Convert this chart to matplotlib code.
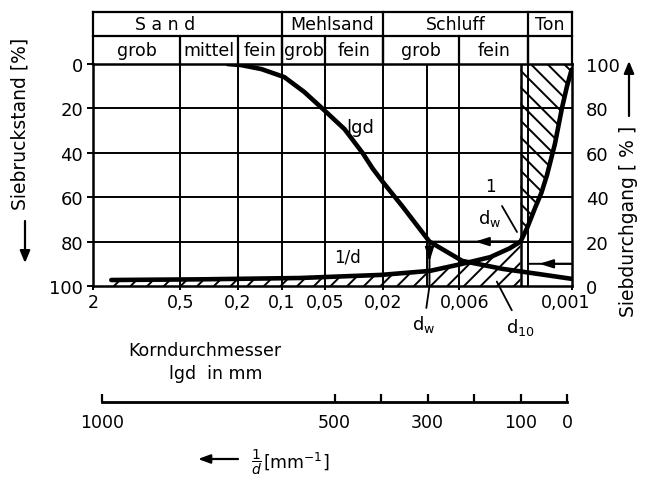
import numpy as np
import matplotlib
matplotlib.use("Agg")
import matplotlib.pyplot as plt
from matplotlib.ticker import NullLocator
from matplotlib.transforms import ScaledTranslation

plt.rcParams["font.family"] = ["DejaVu Sans"]
plt.rcParams["hatch.linewidth"] = 1.4

# grading curve over lg d: grain diameter [mm] and sieve residue [%]
d_lgd = [0.236, 0.19, 0.138, 0.096, 0.07, 0.052, 0.037, 0.0278, 0.0237,
         0.0202, 0.0148, 0.0096, 0.0057, 0.003, 0.0017, 0.001]
residue_lgd = [0, 0.5, 2.3, 5.9, 12.6, 20.3, 29.3, 40, 47,
               53, 64, 80, 88.7, 92.3, 94.6, 96.8]

# same sample over 1/d [1/mm] and sieve passing [%]
inv_d = [980, 790, 575, 400, 295, 225, 165, 123, 100, 86, 69, 55, 43, 26, 11, 0, -10]
passing_inv = [2.7, 3.0, 3.6, 5.0, 6.8, 10.0, 13.0, 17.0, 20.0, 26.0, 35.0,
               42.0, 50.0, 64.0, 80.0, 90.0, 97.5]

# soil classes and their boundaries [mm]
main_classes = ["S a n d", "Mehlsand", "Schluff", "Ton"]
main_bounds = [2, 0.1, 0.02, 0.002, 0.001]
sub_classes = ["grob", "mittel", "fein", "grob", "fein", "grob", "fein", ""]
sub_bounds = [2, 0.5, 0.2, 0.1, 0.05, 0.02, 0.006, 0.002, 0.001]

grid_d = [0.5, 0.2, 0.1, 0.05, 0.02, 0.01, 0.006, 0.002]
d_ticks = [2, 0.5, 0.2, 0.1, 0.05, 0.02, 0.006, 0.001]
d_ticklabels = ["2", "0,5", "0,2", "0,1", "0,05", "0,02", "0,006", "0,001"]
pct_ticks = [0, 20, 40, 60, 80, 100]

inv_ticks = [1000, 500, 400, 300, 200, 100, 0]
inv_ticklabels = ["1000", "500", "", "300", "", "100", "0"]

d_w = 0.0096        # lgd curve at the 1/d_w passing level
inv_d_w = 100       # 1/d_w [1/mm]
d_10 = 0.0033
p_10 = 10           # passing for d_10

W, H = 653, 485
fig = plt.figure(figsize=(W / 100, H / 100), dpi=100)


def px_box(l, t, r, b):
    return [l / W, 1 - b / H, (r - l) / W, (b - t) / H]


def fpx(x, y):
    # pixel position (from top left) -> figure fraction
    return x / W, 1 - y / H


AX_L, AX_T, AX_R, AX_B = 93, 65, 572, 287
INV_L, INV_R = 102, 567      # where 1/d = 1000 and 1/d = 0 sit

ax = fig.add_axes(px_box(AX_L, AX_T, AX_R, AX_B))
ax.set_xscale("log")
ax.set_xlim(2, 0.001)
ax.set_ylim(100, 0)
ax.xaxis.set_minor_locator(NullLocator())
ax.set_xticks(d_ticks)
ax.set_xticklabels(d_ticklabels)
ax.set_yticks(pct_ticks)
ax.tick_params(axis="x", direction="out", length=3, width=1.4, pad=2, labelsize=12.5)
ax.tick_params(axis="y", direction="out", length=4, width=1.4, pad=3, labelsize=13)
for s in ax.spines.values():
    s.set_linewidth(1.8)

# nudge the crowded labels at the fine end
xlabels = ax.get_xticklabels()
xlabels[-2].set_transform(xlabels[-2].get_transform()
                          + ScaledTranslation(6 / 100, 0, fig.dpi_scale_trans))
xlabels[-1].set_transform(xlabels[-1].get_transform()
                          + ScaledTranslation(-6 / 100, 0, fig.dpi_scale_trans))

# grid
for g in grid_d:
    ax.axvline(g, color="black", lw=1.4, zorder=1)
for p in pct_ticks[1:-1]:
    ax.axhline(p, color="black", lw=1.4, zorder=1)

# header table with soil classes
xt = ax.get_xaxis_transform()
Y0, Y1, Y2 = 1.0, (AX_B - 37) / (AX_B - AX_T), (AX_B - 13) / (AX_B - AX_T)
ax.plot([2, 0.001], [Y1, Y1], color="black", lw=1.6, transform=xt, clip_on=False)
ax.plot([2, 0.001], [Y2, Y2], color="black", lw=1.6, transform=xt, clip_on=False)
for b in main_bounds:
    ax.plot([b, b], [Y0, Y2], color="black", lw=1.6, transform=xt, clip_on=False)
for b in sub_bounds[1:-1]:
    ax.plot([b, b], [Y0, Y1], color="black", lw=1.6, transform=xt, clip_on=False)


def log_mid(a, b):
    return 10 ** ((np.log10(a) + np.log10(b)) / 2)


for i, name in enumerate(main_classes):
    if i == 0:
        xm = log_mid(main_bounds[0], 0.2)   # "Sand" sits over grob/mittel
    else:
        xm = log_mid(main_bounds[i], main_bounds[i + 1])
    ax.text(xm, (Y1 + Y2) / 2, name, transform=xt, ha="center", va="center",
            fontsize=12.5)
for i, name in enumerate(sub_classes):
    xm = log_mid(sub_bounds[i], sub_bounds[i + 1])
    ax.text(xm, (Y0 + Y1) / 2, name, transform=xt, ha="center", va="center",
            fontsize=12.5)

# lg d curve
ax.plot(d_lgd, residue_lgd, color="black", lw=3.3, solid_joinstyle="round",
        solid_capstyle="round", zorder=4)

# overlay axes for 1/d and passing
k = 1000 / (INV_R - INV_L)
ax2 = fig.add_axes(px_box(AX_L, AX_T, AX_R, AX_B), frameon=False)
ax2.set_xlim(1000 + (INV_L - AX_L) * k, -(AX_R - INV_R) * k)
ax2.set_ylim(0, 100)
ax2.set_xticks([])
ax2.yaxis.tick_right()
ax2.set_yticks(pct_ticks)
ax2.tick_params(axis="y", length=0, pad=10, labelsize=13)

inv = np.array(inv_d, dtype=float)
pas = np.array(passing_inv, dtype=float)
p_w = np.interp(inv_d_w, inv[::-1], pas[::-1])

# area under the 1/d curve, left of 1/d_w
left = inv >= inv_d_w
ax2.fill(np.r_[inv[0], inv[left], inv_d_w], np.r_[0, pas[left], 0],
         facecolor="none", edgecolor="black", hatch="//", lw=0, zorder=2)
# area between 1/d_w and the curve above the crossing
right = inv < inv_d_w
x_end = ax2.get_xlim()[1]
ax2.fill(np.r_[inv_d_w, inv[right], x_end, inv_d_w],
         np.r_[p_w, pas[right], 100, 100],
         facecolor="none", edgecolor="black", hatch="\\\\", lw=0, zorder=2)
ax2.axvline(inv_d_w, color="black", lw=1.8, zorder=3)

ax2.plot(inv, pas, color="black", lw=3.3, solid_joinstyle="round",
         solid_capstyle="round", zorder=4)

fig.canvas.draw()


def arrow_line(p0, p1, f=0.5, lw=1.4):
    # line from p0 to p1 (display px) with a head part way along
    p0, p1 = np.asarray(p0), np.asarray(p1)
    ph = p0 + f * (p1 - p0)
    ax.annotate("", xy=p1, xycoords="figure pixels", xytext=p0,
                textcoords="figure pixels",
                arrowprops=dict(arrowstyle="-", lw=lw, color="black",
                                shrinkA=0, shrinkB=0))
    ax.annotate("", xy=ph, xycoords="figure pixels", xytext=p0,
                textcoords="figure pixels",
                arrowprops=dict(arrowstyle="-|>,head_length=0.7,head_width=0.22",
                                lw=lw, color="black", shrinkA=0, shrinkB=0,
                                mutation_scale=12))


# d_w construction: from 1/d_w over to the lg d curve, then down
r_w = 100 - p_w
pw_inv = ax2.transData.transform((inv_d_w, p_w))
pw_lgd = ax.transData.transform((d_w, r_w))
pw_bot = ax.transData.transform((d_w, 100))
arrow_line(pw_inv, pw_lgd, 0.5)
arrow_line(pw_lgd, pw_bot, 0.45)

# d_10 reading line from the right edge
p10_right = ax.transData.transform((0.001, 100 - p_10))
p10_left = ax.transData.transform((0.002, 100 - p_10))
arrow_line(p10_right, p10_left, 0.75)

# labels inside the plot
fig.text(*fpx(360, 128), "lgd", ha="center", va="center", fontsize=13)
fig.text(*fpx(347, 258), "1/d", ha="center", va="center", fontsize=12)
fig.text(*fpx(490, 187), "1", ha="center", va="center", fontsize=12)
fig.text(*fpx(490, 219), r"d$_\mathrm{w}$", ha="center", va="center", fontsize=13)
ax.annotate("", xy=fpx(517, 233), xycoords="figure fraction",
            xytext=fpx(502, 207), textcoords="figure fraction",
            arrowprops=dict(arrowstyle="-", lw=1.3, color="black", shrinkA=0, shrinkB=0))

# leaders below the axis
ax.annotate(r"d$_\mathrm{w}$", xy=(d_w, 100), xycoords="data",
            xytext=fpx(424, 325), textcoords="figure fraction",
            ha="center", va="center", fontsize=13, annotation_clip=False,
            arrowprops=dict(arrowstyle="-", lw=1.3, color="black", shrinkA=2, shrinkB=0))
ax.annotate(r"d$_{10}$", xy=(d_10, 98), xycoords="data",
            xytext=fpx(520, 327), textcoords="figure fraction",
            ha="center", va="center", fontsize=13, annotation_clip=False,
            arrowprops=dict(arrowstyle="-", lw=1.3, color="black", shrinkA=2, shrinkB=0))

# axis titles
fig.text(*fpx(20, 124), "Siebruckstand [%]", rotation=90, ha="center", va="center",
         fontsize=13.5)
ax.annotate("", xy=(25, H - 264), xycoords="figure pixels", xytext=(25, H - 222),
            textcoords="figure pixels",
            arrowprops=dict(arrowstyle="-|>,head_length=0.6,head_width=0.25", lw=1.6,
                            color="black", mutation_scale=12, shrinkA=0, shrinkB=0))
fig.text(*fpx(629, 221), "Siebdurchgang [ % ]", rotation=90, ha="center", va="center",
         fontsize=13.5)
ax.annotate("", xy=(629, H - 62), xycoords="figure pixels", xytext=(629, H - 117),
            textcoords="figure pixels",
            arrowprops=dict(arrowstyle="-|>,head_length=0.6,head_width=0.25", lw=1.6,
                            color="black", mutation_scale=12, shrinkA=0, shrinkB=0))

fig.text(*fpx(205, 351), "Korndurchmesser", ha="center", va="center", fontsize=12.5)
fig.text(*fpx(216, 374), "lgd  in mm", ha="center", va="center", fontsize=12.5)

# separate 1/d scale
ax3 = fig.add_axes(px_box(INV_L, 393, INV_R, 403))
ax3.set_xlim(1000, 0)
ax3.set_yticks([])
ax3.patch.set_visible(False)
for side in ["top", "left", "right"]:
    ax3.spines[side].set_visible(False)
ax3.spines["bottom"].set_linewidth(2.0)
ax3.set_xticks(inv_ticks)
ax3.set_xticklabels(inv_ticklabels)
ax3.tick_params(axis="x", direction="in", length=6, width=1.6, pad=8, labelsize=12.5)

ax.annotate("", xy=(198, H - 460), xycoords="figure pixels", xytext=(238, H - 460),
            textcoords="figure pixels",
            arrowprops=dict(arrowstyle="-|>,head_length=0.6,head_width=0.22", lw=1.6,
                            color="black", mutation_scale=12, shrinkA=0, shrinkB=0))
fig.text(*fpx(256, 462), r"$\dfrac{1}{d}$", ha="center", va="center", fontsize=10)
fig.text(*fpx(263, 461), r"[mm$^{-1}$]", ha="left", va="center", fontsize=12.5)

fig.savefig("out.png", dpi=100)
